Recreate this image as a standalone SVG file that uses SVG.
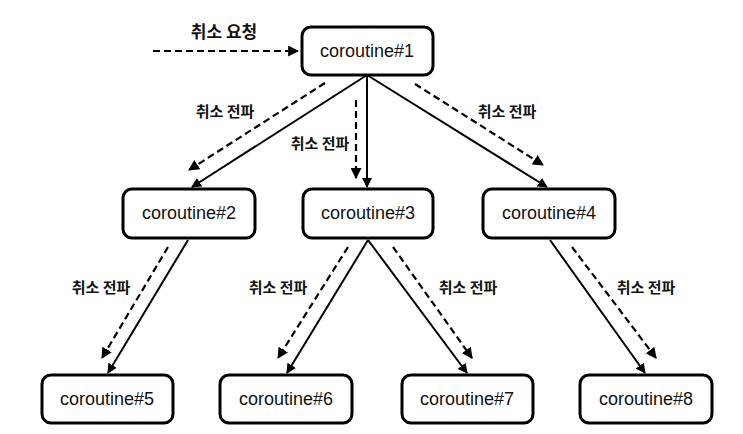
<svg xmlns="http://www.w3.org/2000/svg" width="743" height="434" viewBox="0 0 743 434">
<style>
.box{fill:#fff;stroke:#000;stroke-width:3}
.nt{font-family:"Liberation Sans",Arial,sans-serif;font-size:18px;fill:#111;text-anchor:middle;dominant-baseline:central}
.lb{font-family:"Noto Sans CJK KR",sans-serif;font-size:15px;font-weight:bold;fill:#111;text-anchor:middle;dominant-baseline:central}
.solid{stroke:#000;stroke-width:2;fill:none}
.dash{stroke:#000;stroke-width:2.2;fill:none;stroke-dasharray:7 4}
</style>
<defs>
<marker id="ah" viewBox="0 0 10 10" refX="9" refY="5" markerWidth="5" markerHeight="5" orient="auto" markerUnits="strokeWidth">
<path d="M0,0 L10,5 L0,10 z" fill="#000"/>
</marker>
</defs>
<g id="connectors">
<line class="dash" x1="153" y1="51" x2="298" y2="51" marker-end="url(#ah)"/>
<line class="solid" x1="367" y1="75" x2="192" y2="187" marker-end="url(#ah)"/>
<line class="solid" x1="367" y1="75" x2="367" y2="187" marker-end="url(#ah)"/>
<line class="solid" x1="367" y1="75" x2="547" y2="187" marker-end="url(#ah)"/>
<line class="dash" x1="325" y1="83" x2="189" y2="170" marker-end="url(#ah)"/>
<line class="dash" x1="356" y1="100" x2="356" y2="178" marker-end="url(#ah)"/>
<line class="dash" x1="415" y1="84" x2="543" y2="165" marker-end="url(#ah)"/>
<line class="solid" x1="188" y1="240" x2="108" y2="373" marker-end="url(#ah)"/>
<line class="dash" x1="168" y1="247" x2="102" y2="358" marker-end="url(#ah)"/>
<line class="solid" x1="368" y1="240" x2="287" y2="373" marker-end="url(#ah)"/>
<line class="dash" x1="348" y1="247" x2="278" y2="358" marker-end="url(#ah)"/>
<line class="solid" x1="368" y1="240" x2="467" y2="373" marker-end="url(#ah)"/>
<line class="dash" x1="393" y1="247" x2="472" y2="358" marker-end="url(#ah)"/>
<line class="solid" x1="550" y1="240" x2="645" y2="373" marker-end="url(#ah)"/>
<line class="dash" x1="572" y1="247" x2="656" y2="358" marker-end="url(#ah)"/>
</g>
<g id="labels">
<text class="lb" x="224" y="30" style="font-size:17px">취소 요청</text>
<text class="lb" x="225" y="110">취소 전파</text>
<text class="lb" x="320" y="142">취소 전파</text>
<text class="lb" x="507" y="110">취소 전파</text>
<text class="lb" x="101" y="286">취소 전파</text>
<text class="lb" x="278" y="286">취소 전파</text>
<text class="lb" x="468" y="286">취소 전파</text>
<text class="lb" x="646" y="286">취소 전파</text>
</g>
<g id="node1"><rect class="box" x="302" y="27" width="131" height="48" rx="9"/><text class="nt" x="367" y="51">coroutine#1</text></g>
<g id="node2"><rect class="box" x="123" y="189" width="132" height="49" rx="9"/><text class="nt" x="189" y="213">coroutine#2</text></g>
<g id="node3"><rect class="box" x="303" y="189" width="130" height="49" rx="9"/><text class="nt" x="368" y="213">coroutine#3</text></g>
<g id="node4"><rect class="box" x="483" y="189" width="132" height="49" rx="9"/><text class="nt" x="549" y="213">coroutine#4</text></g>
<g id="node5"><rect class="box" x="42" y="375" width="131" height="48" rx="9"/><text class="nt" x="107" y="399">coroutine#5</text></g>
<g id="node6"><rect class="box" x="220" y="375" width="132" height="48" rx="9"/><text class="nt" x="286" y="399">coroutine#6</text></g>
<g id="node7"><rect class="box" x="402" y="375" width="131" height="48" rx="9"/><text class="nt" x="467" y="399">coroutine#7</text></g>
<g id="node8"><rect class="box" x="580" y="375" width="132" height="48" rx="9"/><text class="nt" x="646" y="399">coroutine#8</text></g>
</svg>
